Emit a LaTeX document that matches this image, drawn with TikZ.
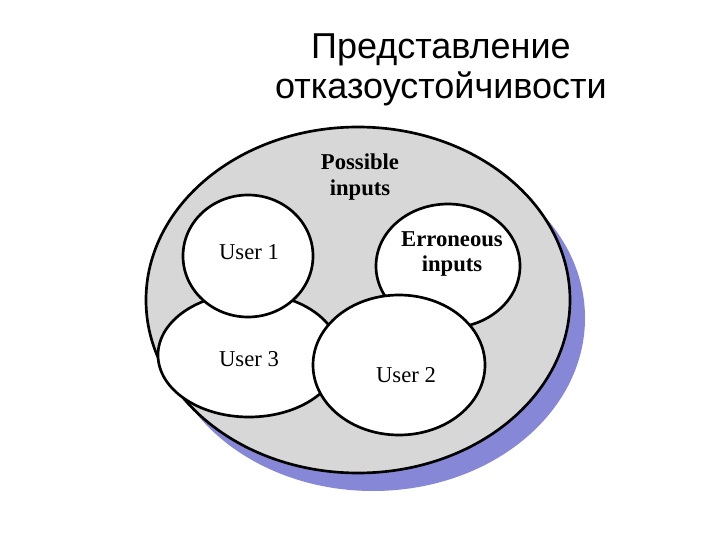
\documentclass[tikz,border=0pt]{standalone}
\usepackage{fontspec}
\setmainfont{Liberation Serif}
\newfontfamily\titlefont{Liberation Sans}
\definecolor{shadowblue}{RGB}{135,135,215}
\definecolor{dotgray}{RGB}{215,215,215}
\begin{document}
\begin{tikzpicture}[x=0.75pt,y=-0.75pt,
  set/.style={draw=black,line width=2pt,fill=white},
  lbl/.style={font=\fontsize{17}{19}\selectfont,align=center}]
\useasboundingbox (0,0) rectangle (717,538);
\fill[white] (0,0) rectangle (717,538);
\node[font=\titlefont\fontsize{27}{30}\selectfont,align=center] (title) at (441,70) {Представление\\отказоустойчивости};
\fill[shadowblue] (373,318) ellipse (212 and 173);
\draw[set,fill=dotgray] (358,300) ellipse (212 and 173);
\coordinate (big) at (358,300);
\draw[set] (249,355) ellipse (91 and 62);
\draw[set] (248,256) ellipse (65 and 61);
\draw[set] (448,266) ellipse (72 and 62);
\draw[set] (399,365) ellipse (86 and 70);
\node[lbl,font=\bfseries\fontsize{17}{19}\selectfont] (pos) at (360,177) {Possible\\inputs};
\node[lbl,font=\bfseries\fontsize{17}{19}\selectfont] (err) at (452,254) {Erroneous\\inputs};
\node[lbl] (u1) at (249,252) {User 1};
\node[lbl] (u3) at (249,359) {User 3};
\node[lbl] (u2) at (406,375) {User 2};
\end{tikzpicture}
\end{document}
